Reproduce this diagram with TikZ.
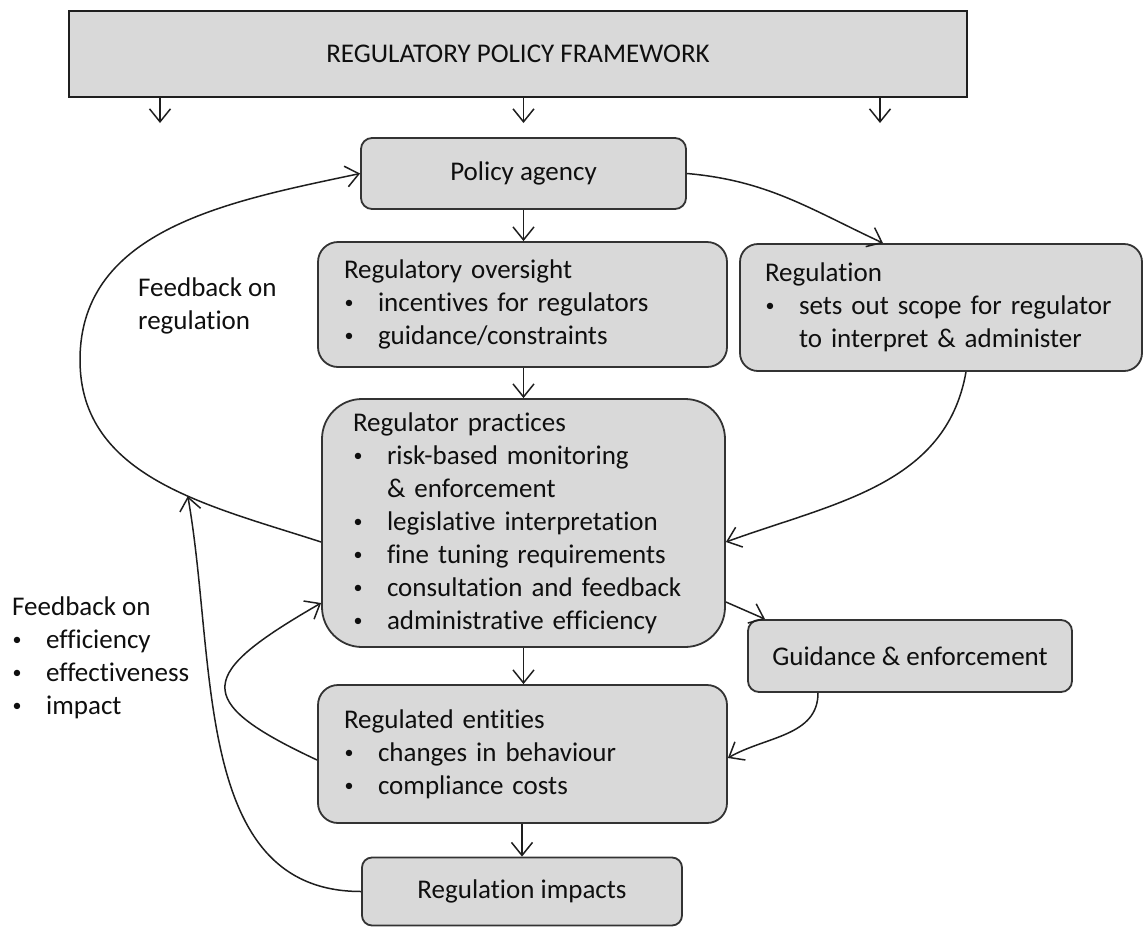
\documentclass[tikz,border=0pt]{standalone}
\usepackage{fontspec}
\setmainfont{Carlito}[Ligatures=NoCommon]
\usetikzlibrary{arrows.meta}
\definecolor{boxfill}{HTML}{D9D9D9}
\definecolor{boxline}{HTML}{333333}
\definecolor{txt}{HTML}{0F0F0F}
\definecolor{conncol}{HTML}{1E1E1E}
\newcommand\blt{\makebox[34pt][l]{\hspace*{0.5pt}\raisebox{3pt}{\fontsize{18}{18}\selectfont •}}}
\begin{document}
\begin{tikzpicture}[x=1pt,y=1pt,
  every node/.style={font=\fontsize{27}{33}\selectfont, text=txt},
  box/.style={draw=boxline, fill=boxfill, line width=1.8pt, rounded corners=#1},
  box/.default=12pt,
  conn/.style={draw=conncol, line width=1.5pt, -{Straight Barb[length=13pt,width=21pt]}},
]
\useasboundingbox (0,0) rectangle (1144,-927);

% nodes
\node[draw=black!88, fill=boxfill, line width=2.6pt, minimum width=898pt, minimum height=86pt, inner sep=0pt] (top) at (518,-54) {REGULATORY POLICY FRAMEWORK};
\node[box=11pt, minimum width=325pt, minimum height=71pt, inner sep=0pt] (pol) at (523.5,-173.5) {Policy agency};
\node[box=20pt, text width=357pt, inner xsep=26pt, inner ysep=0pt, minimum height=125pt, align=left] (ov) at (522.5,-304.5) {Regulatory oversight\\\blt incentives for regulators\\\blt guidance/constraints};
\node[box=18pt, text width=352pt, inner xsep=25pt, inner ysep=0pt, minimum height=127pt, align=left] (reg) at (941,-307.5) {Regulation\\\blt sets out scope for regulator\\\hspace*{34pt}to interpret \& administer};
\node[box=40pt, text width=341pt, inner xsep=31pt, inner ysep=0pt, minimum height=248pt, align=left] (prac) at (523.5,-523) {Regulator practices\\\blt risk-based monitoring\\\hspace*{34pt}\& enforcement\\\blt legislative interpretation\\\blt fine tuning requirements\\\blt consultation and feedback\\\blt administrative efficiency};
\node[box=11pt, minimum width=324pt, minimum height=72pt, inner sep=0pt] (guid) at (910,-656) {Guidance \& enforcement};
\node[box=20pt, text width=357pt, inner xsep=26pt, inner ysep=0pt, minimum height=138pt, align=left] (ent) at (522.5,-754) {Regulated entities\\\blt changes in behaviour\\\blt compliance costs};
\node[box=10pt, minimum width=320pt, minimum height=68pt, inner sep=0pt] (imp) at (522,-891.5) {Regulation impacts};

\node[anchor=base west, align=left, inner sep=0pt] (fb1) at (138,-329) {Feedback on\\regulation};
\node[anchor=base west, align=left, inner sep=0pt] (fb2) at (12,-714) {Feedback on\\\blt efficiency\\\blt effectiveness\\\blt impact};

% free ends
\coordinate (a1) at (160,-123);
\coordinate (a2) at (523.5,-123);
\coordinate (a3) at (880,-123);
\coordinate (loopL) at (80,-360);

% connectors
\draw[conn] (top.south -| a1) -- (a1);
\draw[conn] (top.south -| a2) -- (a2);
\draw[conn] (top.south -| a3) -- (a3);
\draw[conn] (pol.south) -- (pol.south |- ov.north);
\draw[conn] (ov.south -| prac.north) -- (prac.north);
\draw[conn] (prac.south) -- (prac.south |- ent.north);
\draw[conn] (ent.south -| imp.north) -- (imp.north);

\draw[conn] (pol.east) to[out=-5,in=155] ([xshift=-58pt]reg.north);
\draw[conn] ([xshift=25pt]reg.south) to[out=-100,in=20] ([yshift=-19pt]prac.east);
\draw[conn] ([yshift=-19pt]prac.west) to[out=162,in=-90] coordinate[pos=0.4] (fb) (loopL) to[out=90,in=192] (pol.west);
\draw[conn] (imp.west) to[out=180,in=-80] (fb);
\draw[conn] ([yshift=-6pt]ent.west) to[out=155,in=210,looseness=2.3] ([yshift=-80pt]prac.west);
\draw[conn] ([yshift=-79pt]prac.east) -- ([xshift=-145pt]guid.north);
\draw[conn] ([xshift=-92pt]guid.south) to[out=-90,in=30] ([yshift=-4pt]ent.east);
\end{tikzpicture}
\end{document}
